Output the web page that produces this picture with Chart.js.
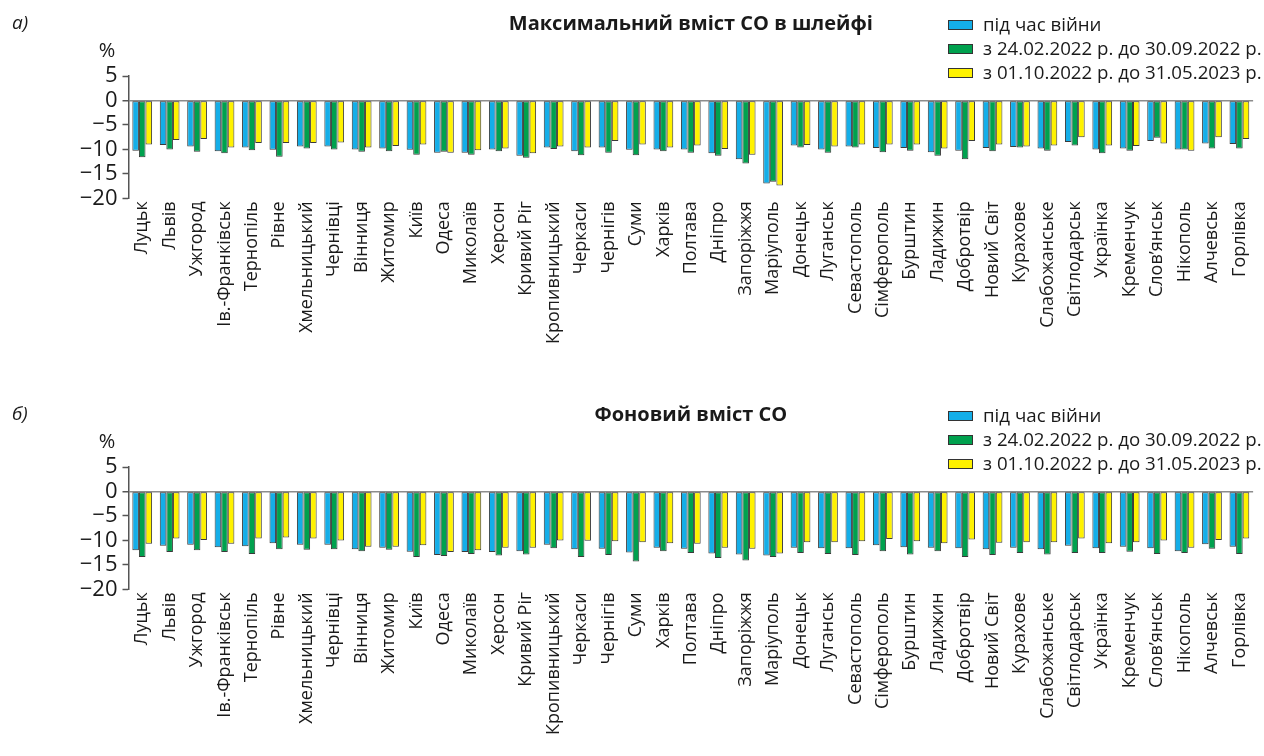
<!DOCTYPE html>
<html lang="uk">
<head>
<meta charset="utf-8">
<title>Вміст CO</title>
<script src="https://cdn.jsdelivr.net/npm/chart.js@4.4.1/dist/chart.umd.min.js"></script>
<style>
  html, body { margin: 0; padding: 0; background: #fff; }
  body { width: 1264px; height: 756px; position: relative; overflow: hidden; }
  .panel { position: absolute; left: 0; width: 1264px; }
  #panelA { top: 0; height: 391px; }
  #panelB { top: 391px; height: 365px; }
</style>
</head>
<body>
<div class="panel" id="panelA"><canvas id="chartA"></canvas></div>
<div class="panel" id="panelB"><canvas id="chartB"></canvas></div>
<script>
// Data
const categories = ['Луцьк', 'Львів', 'Ужгород', 'Ів.-Франківськ', 'Тернопіль', 'Рівне', 'Хмельницький',
    'Чернівці', 'Вінниця', 'Житомир', 'Київ', 'Одеса', 'Миколаїв', 'Херсон', 'Кривий Ріг', 'Кропивницький',
    'Черкаси', 'Чернігів', 'Суми', 'Харків', 'Полтава', 'Дніпро', 'Запоріжжя', 'Маріуполь', 'Донецьк',
    'Луганськ', 'Севастополь', 'Сімферополь', 'Бурштин', 'Ладижин', 'Добротвір', 'Новий Світ', 'Курахове',
    'Слабожанське', 'Світлодарськ', 'Українка', 'Кременчук', 'Слов’янськ', 'Нікополь', 'Алчевськ', 'Горлівка'];

const seriesNames = ['під час війни', 'з 24.02.2022 р. до 30.09.2022 р.', 'з 01.10.2022 р. до 31.05.2023 р.'];
const yTicks = [5, 0, -5, -10, -15, -20];

// а) Максимальний вміст CO в шлейфі
const maxWar = [-10.3, -9.1, -9.4, -10.4, -9.6, -10.1, -9.4, -9.4, -10.0, -9.8, -10.1, -10.7, -10.7, -10.0,
    -11.3, -9.6, -10.4, -9.6, -10.1, -10.0, -10.0, -10.8, -12.0, -17.0, -9.2, -10.0, -9.4, -9.7, -9.7, -10.6,
    -10.3, -9.7, -9.5, -9.8, -8.5, -10.0, -9.8, -8.3, -10.0, -8.8, -8.9];
const maxPeriod1 = [-11.6, -10.0, -10.5, -10.8, -10.2, -11.5, -9.8, -10.0, -10.5, -10.4, -11.1, -10.5, -11.1,
    -10.4, -11.7, -9.9, -11.2, -10.7, -11.2, -10.4, -10.7, -11.3, -12.9, -16.6, -9.6, -10.7, -9.6, -10.6, -10.3,
    -11.3, -12.0, -10.4, -9.6, -10.3, -9.2, -10.8, -10.3, -7.6, -10.0, -9.8, -9.8];
const maxPeriod2 = [-9.0, -8.1, -7.9, -9.6, -8.7, -8.7, -8.7, -8.6, -9.6, -9.3, -9.0, -10.7, -10.2, -9.8,
    -10.8, -9.4, -9.6, -8.3, -9.0, -9.6, -9.2, -9.9, -11.1, -17.4, -9.1, -9.4, -9.0, -9.0, -9.0, -9.8, -8.3,
    -9.0, -9.4, -9.2, -7.5, -9.2, -9.3, -8.8, -10.3, -7.5, -7.9];

// б) Фоновий вміст CO
const bgWar = [-12.0, -11.1, -10.9, -11.4, -11.2, -10.6, -10.9, -10.9, -11.8, -11.5, -12.3, -13.0, -12.4,
    -12.4, -12.2, -10.9, -11.8, -11.7, -12.5, -11.5, -11.7, -12.7, -12.9, -13.1, -11.5, -11.6, -11.6, -11.0,
    -11.4, -11.5, -11.6, -11.8, -11.5, -11.8, -11.1, -11.6, -11.3, -11.6, -12.2, -10.8, -11.3];
const bgPeriod1 = [-13.4, -12.4, -12.0, -12.4, -12.8, -11.8, -11.9, -11.8, -12.2, -11.9, -13.4, -13.2, -12.8,
    -13.1, -12.9, -11.6, -13.4, -13.0, -14.3, -12.2, -12.6, -13.6, -14.1, -13.4, -12.6, -12.8, -13.0, -12.2,
    -12.9, -12.2, -13.4, -13.0, -12.6, -12.9, -12.6, -12.6, -12.3, -12.8, -12.6, -11.7, -12.8];
const bgPeriod2 = [-10.7, -9.6, -9.9, -10.7, -9.6, -9.4, -9.6, -10.0, -11.3, -11.3, -11.0, -12.4, -12.0,
    -11.5, -11.5, -10.0, -10.1, -10.2, -10.4, -10.6, -10.7, -11.5, -11.7, -12.7, -10.4, -10.4, -10.2, -9.7,
    -10.2, -10.6, -9.8, -10.5, -10.4, -10.4, -9.6, -10.6, -10.4, -10.0, -11.5, -9.9, -9.6];

const colors = ['#14aee8', '#00a14e', '#fff200'];
const FONT = '"Open Sans", "Noto Sans", sans-serif';

// Title, panel letter, unit and legend
const decorPlugin = {
    id: 'decor',
    afterDraw(chart, args, opts) {
        const ctx = chart.ctx;
        const area = chart.chartArea;
        ctx.save();
        ctx.fillStyle = '#1a1a1a';
        ctx.textBaseline = 'middle';

        ctx.font = 'italic 19px ' + FONT;
        ctx.textAlign = 'left';
        ctx.fillText(opts.letter, 12, opts.titleY);

        ctx.font = 'bold 20px ' + FONT;
        ctx.textAlign = 'center';
        ctx.fillText(opts.title, (area.left + area.right) / 2, opts.titleY);

        ctx.font = '20px ' + FONT;
        ctx.fillText('%', 107, area.top - 25);

        ctx.font = '18.7px ' + FONT;
        chart.data.datasets.forEach((ds, i) => {
            const y = opts.legendY + i * 24;
            ctx.fillStyle = ds.backgroundColor;
            ctx.fillRect(948, y - 5, 25, 10);
            ctx.strokeStyle = '#333';
            ctx.lineWidth = 1;
            ctx.strokeRect(948.5, y - 4.5, 24, 9);
            ctx.fillStyle = '#1a1a1a';
            ctx.textAlign = 'left';
            ctx.fillText(ds.label, 983, y + 1);
        });
        ctx.restore();
    }
};

function makeChart(id, height, letter, title, values) {
    const plotBottom = 198.3;
    return new Chart(document.getElementById(id), {
        type: 'bar',
        data: {
            labels: categories,
            datasets: values.map((v, i) => ({
                label: seriesNames[i],
                data: v,
                backgroundColor: colors[i],
                borderColor: '#3a3a3a',
                borderWidth: 1,
                borderSkipped: false,
                categoryPercentage: 0.72,
                barPercentage: 1.0
            }))
        },
        options: {
            responsive: true,
            maintainAspectRatio: false,
            animation: false,
            layout: { padding: { top: 76, right: 0, bottom: 0, left: 0 } },
            plugins: {
                legend: { display: false },
                tooltip: { enabled: false },
                decor: { letter: letter, title: title, titleY: 24, legendY: 25 }
            },
            scales: {
                x: {
                    grid: { display: false, drawTicks: false },
                    border: { display: false },
                    ticks: {
                        autoSkip: false,
                        minRotation: 90,
                        maxRotation: 90,
                        padding: 3,
                        color: '#1a1a1a',
                        font: { family: FONT, size: 18 }
                    },
                    afterFit(scale) { scale.height = height - plotBottom; }
                },
                y: {
                    min: yTicks[yTicks.length - 1],
                    max: yTicks[0],
                    afterBuildTicks(scale) { scale.ticks = yTicks.map(v => ({ value: v })); },
                    ticks: {
                        autoSkip: false,
                        padding: 5,
                        color: '#1a1a1a',
                        font: { family: FONT, size: 22 },
                        callback: v => v < 0 ? '\u2212' + Math.abs(v) : String(v)
                    },
                    grid: {
                        color: c => c.tick && c.tick.value === 0 ? '#8c8c8c' : 'rgba(0,0,0,0)',
                        lineWidth: c => c.tick && c.tick.value === 0 ? 1.5 : 1,
                        tickColor: '#555',
                        tickWidth: 1.5,
                        tickLength: 6
                    },
                    border: { display: true, color: '#555', width: 1.5 },
                    afterFit(scale) { scale.width = 128.5; }
                }
            }
        },
        plugins: [decorPlugin]
    });
}

makeChart('chartA', 391, 'а)', 'Максимальний вміст CO в шлейфі', [maxWar, maxPeriod1, maxPeriod2]);
makeChart('chartB', 365, 'б)', 'Фоновий вміст CO', [bgWar, bgPeriod1, bgPeriod2]);
</script>
</body>
</html>
